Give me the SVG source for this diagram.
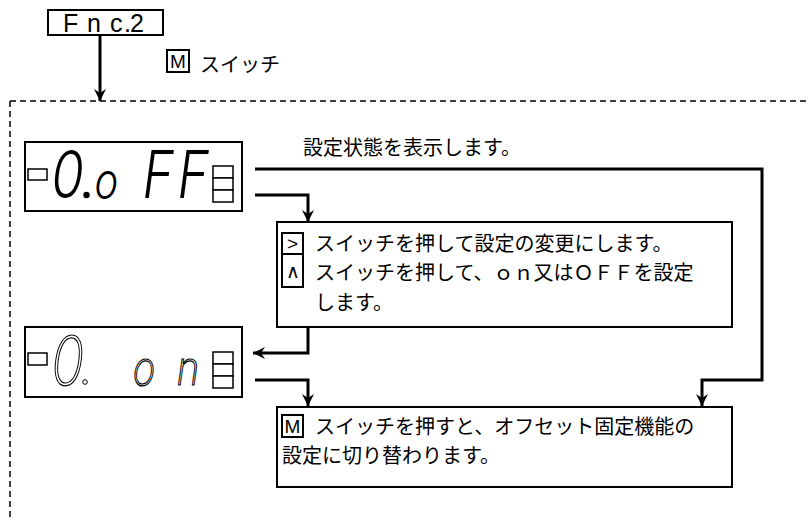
<svg xmlns="http://www.w3.org/2000/svg" width="808" height="519" viewBox="0 0 808 519">
<style>
.box{fill:none;stroke:#000;stroke-width:2}
.conn{fill:none;stroke:#000;stroke-width:3}
.dash{fill:none;stroke:#000;stroke-width:1.5;stroke-dasharray:6 4}
.jp{font-family:'Liberation Sans','Noto Sans CJK JP',sans-serif;font-size:20px;fill:#000}
.key{font-family:'Liberation Sans',sans-serif;font-size:19px;fill:#000;text-anchor:middle}
.seg{font-family:Inter,'DejaVu Sans',sans-serif;font-style:italic;font-weight:300;fill:#000}
.segoff{font-family:Inter,'DejaVu Sans',sans-serif;font-style:italic;font-weight:200;fill:none;stroke:#000;stroke-width:1.2;opacity:0.99}
.fnc{font-family:'Liberation Sans',sans-serif;font-size:25px;fill:#000}
.sm{fill:#fff;stroke:#000;stroke-width:1.5}
</style>
<defs>
<marker id="arr" viewBox="0 0 12 12" refX="12" refY="6" markerWidth="12" markerHeight="12" markerUnits="userSpaceOnUse" orient="auto">
<path d="M0,0 L12,6 L0,12 L4,6 Z" fill="#000"/>
</marker>
</defs>

<g id="frame">
<path class="dash" d="M10,101 H808 M10,101 V519"/>
</g>

<g id="fnc2">
<rect class="box" x="48" y="10" width="115" height="25"/>
<text class="fnc" y="32"><tspan x="63">F</tspan><tspan x="87">n</tspan><tspan x="110">c</tspan><tspan x="124">.</tspan><tspan x="130">2</tspan></text>
</g>

<g id="mswitch">
<rect class="box" x="167" y="50" width="22" height="22" stroke-width="1.5"/>
<text class="key" x="178" y="68">M</text>
<text class="jp" x="200" y="72">スイッチ</text>
</g>

<g id="label-status">
<text class="jp" x="303" y="155">設定状態を表示します。</text>
</g>

<g id="display1">
<rect class="box" x="25" y="142" width="217" height="69"/>
<rect class="sm" x="28" y="169" width="19" height="11"/>
<text class="seg" y="198" transform="scale(0.8,1)"><tspan x="64" font-size="66">0</tspan><tspan x="118" font-size="50">o</tspan><tspan x="178" font-size="66">F</tspan><tspan x="222" font-size="66">F</tspan></text>
<circle cx="86.5" cy="195" r="3.2" fill="#000"/>
<rect class="sm" x="213" y="166" width="20" height="12"/>
<rect class="sm" x="213" y="178" width="20" height="12" stroke-width="2.5"/>
<rect class="sm" x="213" y="190" width="20" height="12"/>
</g>

<g id="display2">
<rect class="box" x="25" y="327" width="217" height="70"/>
<rect class="sm" x="28" y="353" width="19" height="12"/>
<text class="segoff" y="385" transform="scale(0.8,1)"><tspan x="64" font-size="68">0</tspan><tspan x="166" font-size="48">o</tspan><tspan x="221" font-size="48">n</tspan></text>
<circle cx="85" cy="382" r="2.3" fill="#fff" stroke="#000" stroke-width="1"/>
<rect class="sm" x="213" y="352" width="20" height="12"/>
<rect class="sm" x="213" y="364" width="20" height="12"/>
<rect class="sm" x="213" y="376" width="20" height="12" stroke-width="2.5"/>
</g>

<g id="textbox1">
<rect class="box" x="277" y="222" width="455" height="105"/>
<rect class="box" x="282" y="233" width="21" height="21" stroke-width="1.5"/>
<text class="key" x="292.5" y="250">&gt;</text>
<rect class="box" x="282" y="254" width="21" height="33" stroke-width="1.5"/>
<text class="key" x="292.5" y="278" font-size="15">∧</text>
<text class="jp" x="315" y="251">スイッチを押して設定の変更にします。</text>
<text class="jp" x="315" y="280">スイッチを押して、ｏｎ又はＯＦＦを設定</text>
<text class="jp" x="315" y="310">します。</text>
</g>

<g id="textbox2">
<rect class="box" x="277" y="407" width="455" height="80"/>
<rect class="box" x="282" y="415" width="21" height="22" stroke-width="1.5"/>
<text class="key" x="292.5" y="433">M</text>
<text class="jp" x="315" y="434">スイッチを押すと、オフセット固定機能の</text>
<text class="jp" x="282" y="463">設定に切り替わります。</text>
</g>

<g id="connectors">
<path class="conn" d="M100,35 V101" marker-end="url(#arr)"/>
<path class="conn" d="M255,169 H762 V380 H702 V406" marker-end="url(#arr)"/>
<path class="conn" d="M255,195 H308 V222" marker-end="url(#arr)"/>
<path class="conn" d="M308,327 V353 H253" marker-end="url(#arr)"/>
<path class="conn" d="M255,380 H308 V406" marker-end="url(#arr)"/>
</g>
</svg>
